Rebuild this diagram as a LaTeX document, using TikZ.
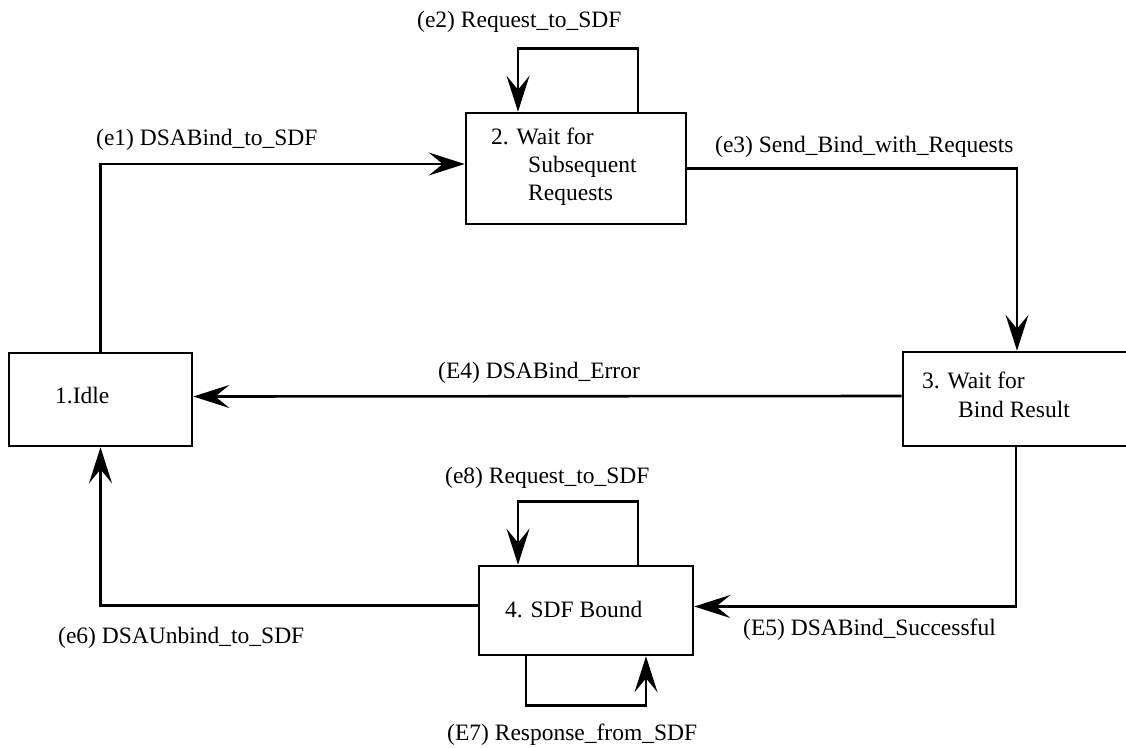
\documentclass[tikz,border=0pt]{standalone}
\usepackage{fontspec}
\setmainfont{LiberationSerif}[Extension=.ttf, UprightFont=*-Regular, BoldFont=*-Bold]
\usetikzlibrary{arrows.meta}
\begin{document}
\begin{tikzpicture}[x=1pt,y=-1pt,
  state/.style={draw, line width=2.6pt, rectangle, inner sep=0pt},
  conn/.style={line width=2.6pt, -{Stealth[length=36pt,width=23pt,inset=14pt]}},
  txt/.style={anchor=base west, inner sep=0pt, font=\rmfamily\fontsize{23.5}{28}\selectfont}]
\clip (0,0) rectangle (1126,747);
\fill[white] (0,0) rectangle (1126,747);

% states
\node[state, minimum width=183pt, minimum height=93pt]  (s1) at (100.5,399.5) {};
\node[state, minimum width=220pt, minimum height=111pt] (s2) at (576,168.5) {};
\node[state, minimum width=247pt, minimum height=94pt]  (s3) at (1026.5,399) {};
\node[state, minimum width=214pt, minimum height=89pt]  (s4) at (586,610.5) {};

% state names
\node[txt] (s1a) at (55,403) {1.Idle};
\node[txt] (s2a) at (491,144) {2. Wait for};
\node[txt] (s2b) at (528,172) {Subsequent};
\node[txt] (s2c) at (528,200) {Requests};
\node[txt] (s3a) at (922,388) {3. Wait for};
\node[txt] (s3b) at (958,417) {Bind Result};
\node[txt] (s4a) at (505,617) {4. SDF Bound};

% transitions
\draw[conn] (s1.north) |- ([yshift=4.5pt]s2.west);
\draw[conn] ([xshift=62pt]s2.north) -- ++(0,-63) -| ([xshift=-58pt]s2.north);
\draw[conn] (s2.east) -| ([xshift=-9.5pt]s3.north);
\draw[conn] ([yshift=3pt]s3.west) -- ([yshift=3pt]s1.east);
\draw[conn] ([xshift=-10.5pt]s3.south) |- ([yshift=4pt]s4.east);
\draw[conn] ([yshift=5pt]s4.west) -| (s1.south);
\draw[conn] ([xshift=52pt]s4.north) -- ++(0,-63) -| ([xshift=-68pt]s4.north);
\draw[conn] ([xshift=-60pt]s4.south) -- ++(0,49) -| ([xshift=60pt]s4.south);

% event labels
\node[txt] (e1) at (96,145) {(e1) DSABind\_to\_SDF};
\node[txt] (e2) at (417,27) {(e2) Request\_to\_SDF};
\node[txt] (e3) at (715,152) {(e3) Send\_Bind\_with\_Requests};
\node[txt] (e4) at (438,378) {(E4) DSABind\_Error};
\node[txt] (e5) at (743,635) {(E5) DSABind\_Successful};
\node[txt] (e6) at (58,643) {(e6) DSAUnbind\_to\_SDF};
\node[txt] (e7) at (447,740) {(E7) Response\_from\_SDF};
\node[txt] (e8) at (445,483) {(e8) Request\_to\_SDF};
\end{tikzpicture}
\end{document}
